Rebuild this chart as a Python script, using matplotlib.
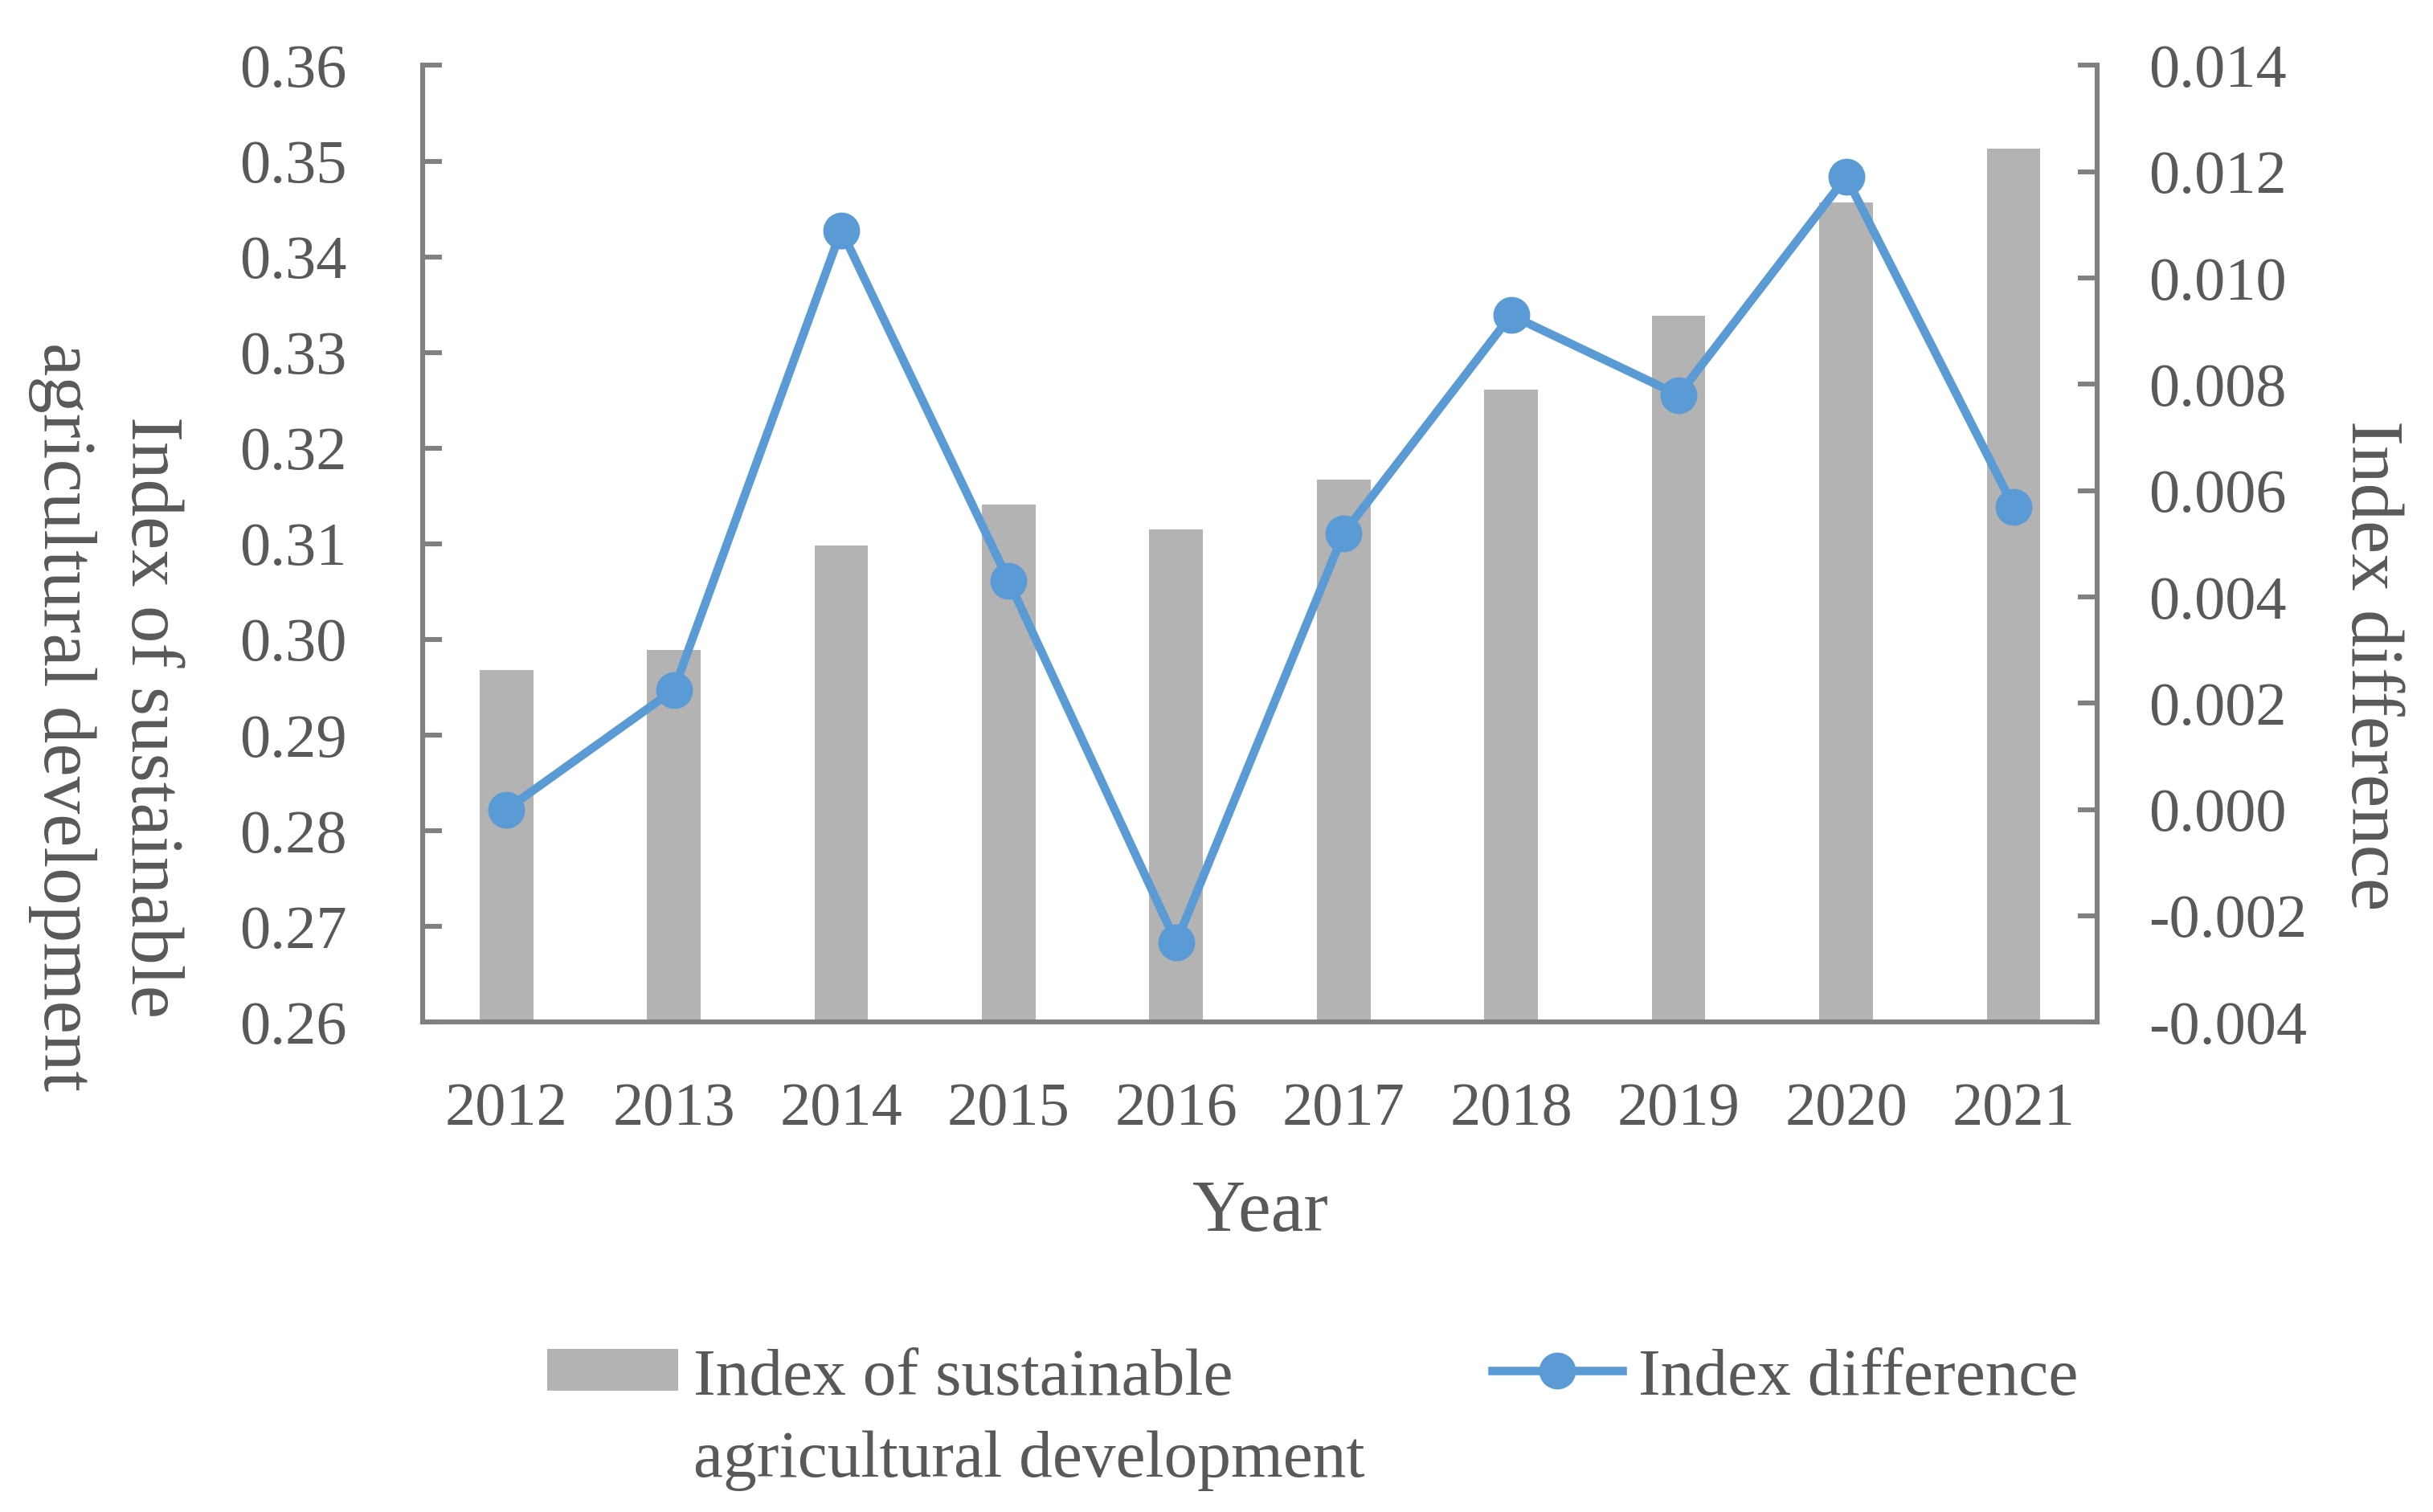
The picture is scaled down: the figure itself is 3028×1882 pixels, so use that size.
import matplotlib
matplotlib.use('Agg')
import matplotlib.pyplot as plt
import numpy as np

years = ['2012', '2013', '2014', '2015', '2016', '2017', '2018', '2019', '2020', '2021']
index_values = [0.2968, 0.2989, 0.3098, 0.3141, 0.3115, 0.3167, 0.3261, 0.3338, 0.3457, 0.3513]
diff_values = [0.0000, 0.00225, 0.0109, 0.0043, -0.0025, 0.0052, 0.0093, 0.0078, 0.0119, 0.0057]

bar_label = 'Index of sustainable\nagricultural development'
line_label = 'Index difference'

text_color = '#595959'
axis_color = '#808080'
bar_color = '#b3b3b3'
line_color = '#5b9bd5'

plt.rcParams['font.family'] = ['Liberation Serif', 'DejaVu Serif']
plt.rcParams['text.color'] = text_color

fig = plt.figure(figsize=(15.14, 9.41), dpi=200)
ax = fig.add_axes([0.1737, 0.324, 0.6883, 0.6327])
ax2 = ax.twinx()

x = np.arange(len(years))
bars = ax.bar(x, index_values, width=0.32, color=bar_color, label=bar_label, zorder=1)
line, = ax2.plot(x, diff_values, color=line_color, lw=3.8, marker='o', markersize=15.5,
                 label=line_label, zorder=3)

left_ticks = np.arange(0.26, 0.3601, 0.01)
right_ticks = np.arange(-0.004, 0.01401, 0.002)
ax.set_xlim(-0.5, 9.5)
ax.set_ylim(0.26, 0.36)
ax.set_yticks(left_ticks)
ax.set_yticklabels(['%.2f' % v for v in left_ticks])
ax2.set_ylim(-0.004, 0.014)
ax2.set_yticks(right_ticks)
ax2.set_yticklabels(['%.3f' % (0 if abs(v) < 1e-9 else v) for v in right_ticks])
ax.set_xticks(x)
ax.set_xticklabels(years)

for a in (ax, ax2):
    a.spines['top'].set_visible(False)
    for s in ('left', 'right', 'bottom'):
        a.spines[s].set_color(axis_color)
        a.spines[s].set_linewidth(2.2)
    a.tick_params(axis='y', direction='in', length=8.5, width=2.2, color=axis_color,
                  labelsize=27.5, labelcolor=text_color)
ax.tick_params(axis='y', pad=34)
ax2.tick_params(axis='y', pad=23)
ax.tick_params(axis='x', length=0, labelsize=27.5, labelcolor=text_color, pad=27)
ax.spines['right'].set_visible(False)
ax2.spines['left'].set_visible(False)
ax2.spines['bottom'].set_visible(False)

ax.set_xlabel('Year', fontsize=33, color=text_color)
ax.xaxis.set_label_coords(0.5, -0.165)

# both axis titles read top to bottom, placed a bit below the axes centre
ax.text(-0.189, 0.319, bar_label, transform=ax.transAxes, rotation=270,
        ha='center', va='center', multialignment='center', fontsize=33.5,
        linespacing=1.37, color=text_color)
ax.text(1.163, 0.373, line_label, transform=ax.transAxes, rotation=270,
        ha='center', va='center', fontsize=33.5, color=text_color)

leg = fig.legend(handles=[bars, line], loc='upper left', bbox_to_anchor=(0.225, 0.108),
                 ncol=2, frameon=False, fontsize=30, handlelength=1.95, handleheight=0.58,
                 columnspacing=1.9, handletextpad=0.23, labelcolor=text_color,
                 borderaxespad=0, borderpad=0)
for t in leg.get_texts():
    t.set_linespacing(1.45)
# handles sit level with the first text line, as in the source chart
leg._legend_handle_box.align = 'top'
for col in leg._legend_handle_box.get_children():
    for item in col.get_children():
        item.align = 'top'

fig.savefig('out.png', dpi=200)
